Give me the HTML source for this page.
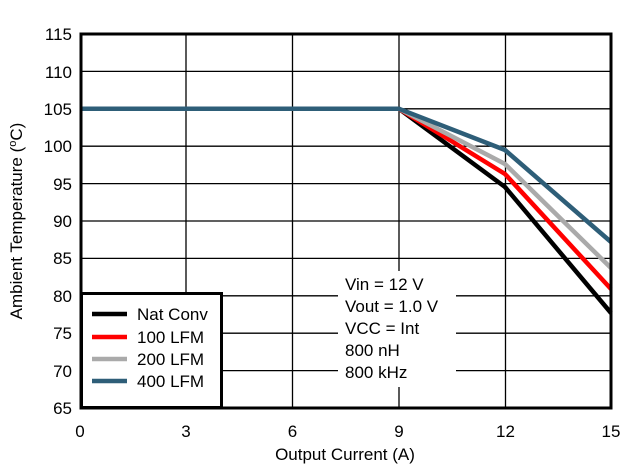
<!DOCTYPE html><html><head><style>body{margin:0;background:#fff}svg{display:block}text{font-family:"Liberation Sans",Arial,sans-serif;font-size:17px;fill:#000}</style></head><body>
<svg width="641" height="475" viewBox="0 0 641 475">
<g stroke="#000" stroke-width="1.3">
<line x1="186" y1="34" x2="186" y2="408"/><line x1="292.5" y1="34" x2="292.5" y2="408"/><line x1="399" y1="34" x2="399" y2="408"/><line x1="505.5" y1="34" x2="505.5" y2="408"/>
<line x1="80" y1="71.4" x2="611" y2="71.4"/><line x1="80" y1="108.8" x2="611" y2="108.8"/><line x1="80" y1="146.2" x2="611" y2="146.2"/><line x1="80" y1="183.6" x2="611" y2="183.6"/><line x1="80" y1="221" x2="611" y2="221"/><line x1="80" y1="258.4" x2="611" y2="258.4"/><line x1="80" y1="295.8" x2="611" y2="295.8"/><line x1="80" y1="333.2" x2="611" y2="333.2"/><line x1="80" y1="370.6" x2="611" y2="370.6"/>
</g>
<rect x="338" y="271" width="118" height="116" fill="#fff"/>
<g fill="none" stroke-width="4.5" stroke-linejoin="round">
<polyline stroke="#000" points="80,108.8 399,108.8 505,187 611,313"/>
<polyline stroke="#f00" points="399,108.8 505,174 611,289"/>
<polyline stroke="#aaa" points="399,108.8 505,164 611,268"/>
<polyline stroke="#2e5e78" points="80,108.8 399,108.8 505,150 611,242"/>
</g>
<rect x="81" y="34" width="530" height="374" fill="none" stroke="#000" stroke-width="3"/>
<rect x="81.5" y="293.5" width="140" height="114" fill="#fff" stroke="#000" stroke-width="3"/>
<g stroke-width="4.5"><line x1="92" y1="314" x2="127" y2="314" stroke="#000"/><line x1="92" y1="337" x2="127" y2="337" stroke="#f00"/><line x1="92" y1="359" x2="127" y2="359" stroke="#aaa"/><line x1="92" y1="381" x2="127" y2="381" stroke="#2e5e78"/></g>
<text x="137" y="320">Nat Conv</text><text x="137" y="343">100 LFM</text><text x="137" y="365">200 LFM</text><text x="137" y="387">400 LFM</text>
<g text-anchor="end"><text x="72" y="40">115</text><text x="72" y="78">110</text><text x="72" y="115">105</text><text x="72" y="152">100</text><text x="72" y="190">95</text><text x="72" y="227">90</text><text x="72" y="264">85</text><text x="72" y="302">80</text><text x="72" y="339">75</text><text x="72" y="377">70</text><text x="72" y="414">65</text></g>
<g text-anchor="middle"><text x="80" y="437">0</text><text x="186" y="437">3</text><text x="292.5" y="437">6</text><text x="399" y="437">9</text><text x="505.5" y="437">12</text><text x="611" y="437">15</text>
<text x="345" y="460">Output Current (A)</text></g>
<text transform="translate(22,221) rotate(-90)" text-anchor="middle">Ambient Temperature (<tspan font-size="11" dy="-6">o</tspan><tspan dy="6">C)</tspan></text>
<text x="345" y="290">Vin = 12 V</text><text x="345" y="312">Vout = 1.0 V</text><text x="345" y="334">VCC = Int</text><text x="345" y="356">800 nH</text><text x="345" y="378">800 kHz</text>
</svg></body></html>
